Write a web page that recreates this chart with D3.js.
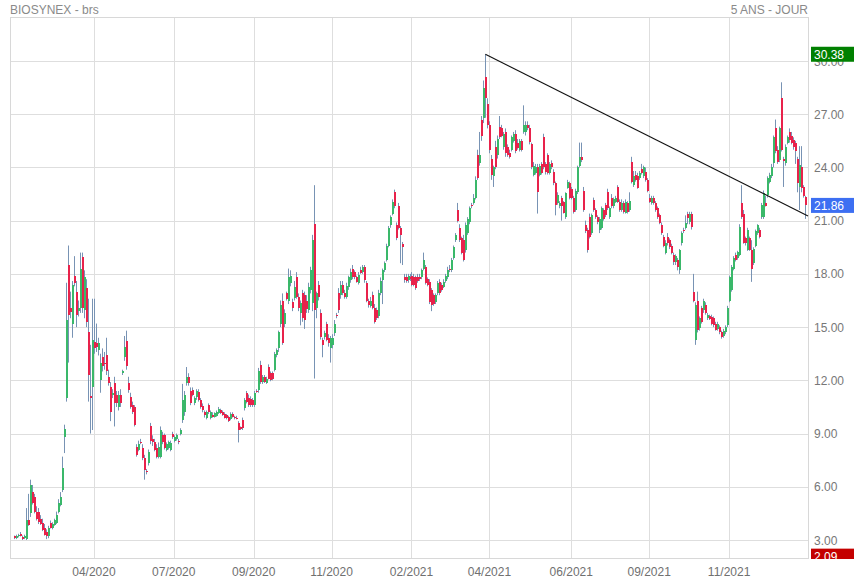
<!DOCTYPE html>
<html><head><meta charset="utf-8">
<script src="https://cdn.jsdelivr.net/npm/d3@7"></script>
<style>
html,body{margin:0;padding:0;background:#fff;}
svg{display:block;font-family:"Liberation Sans",Arial,sans-serif;}
</style></head>
<body><svg id="chart" width="854" height="580"></svg>
<script>
// ---- DATA: daily candles [open, high, low, close] ----
const seg2020a = [
[3.2,3.25,3.05,3.1],[3.1,3.3,3.05,3.25],[3.2,3.35,3.15,3.3],[3.35,3.45,3.2,3.22],[3.18,3.25,3.0,3.05],
[3.1,3.3,3.05,3.2],[3.05,4.8,3.0,4.1],[4.1,5.6,3.8,3.85],[4.5,6.4,4.3,6.1],[5.7,6.1,5.0,5.1],
[5.4,5.6,4.5,4.6],[4.6,4.9,4.1,4.2],[4.6,4.8,3.9,4.0],[4.2,4.4,3.85,3.9],[3.95,4.2,3.5,3.55],
[3.7,3.9,3.25,3.3],[3.45,3.6,3.05,3.2],[3.2,3.8,3.1,3.7],[3.95,4.1,3.65,3.7],[3.7,4.0,3.6,3.9],
[3.85,4.2,3.8,4.1],[3.95,4.6,3.9,4.4],[4.6,5.3,4.5,5.1],[5.0,5.7,4.9,5.4],[5.8,7.7,5.7,7.05]
];
const seg2020b = [
[8.8,9.5,7.9,9.25],[11.0,17.5,10.8,15.4],[18.5,19.6,13.0,15.7],[16.1,17.0,15.5,15.85],[15.2,17.6,14.4,17.4],
[17.9,19.0,17.3,17.5],[17.0,17.6,15.0,15.7],[15.9,16.5,15.6,16.1],[16.1,19.2,15.8,18.3],[18.95,19.2,15.8,16.1],
[15.97,18.2,15.5,17.8],[17.2,17.7,15.0,15.3],[14.7,16.6,10.8,12.3],[11.1,14.0,9.0,11.0],[11.6,16.6,9.2,14.3],
[14.15,16.6,13.5,13.8],[14.1,15.2,13.6,13.9],[13.7,14.4,13.4,14.1],[12.0,13.5,11.3,13.0],[13.3,13.8,12.5,12.8],
[13.0,13.6,12.6,12.9],[13.4,14.4,12.3,12.5],[12.2,12.6,11.7,11.85],[11.6,11.9,9.7,10.2],[11.2,11.5,11.0,11.3],
[11.85,12.2,9.4,10.7],[11.2,11.4,10.5,10.7],[10.5,11.4,10.3,11.2],[11.2,11.5,10.5,10.7],[12.4,12.6,12.3,12.5],
[13.3,14.5,13.1,13.9],[14.2,14.8,12.6,12.8],[11.85,12.2,11.3,11.45],[11.05,11.3,10.4,10.5],[10.6,10.8,10.1,10.2],
[10.5,10.6,9.4,9.5]
];
const seg2020c = [
[8.25,8.4,7.7,7.8],[8.1,8.6,8.0,8.4],[8.55,8.7,8.4,8.5],[8.2,8.4,7.5,7.6],[7.6,7.8,6.4,6.95],
[6.9,7.0,6.7,6.85],[7.35,8.1,7.2,7.95],[9.4,9.6,8.4,8.6],[8.7,8.9,8.3,8.5],[8.5,8.7,8.0,8.1],
[8.2,8.4,7.6,7.7],[7.7,8.5,7.6,8.25],[7.7,9.4,7.6,9.2],[8.9,9.1,8.4,8.5],[8.9,9.0,8.1,8.2],
[8.1,8.5,8.0,8.4],[8.2,8.6,8.1,8.5],[8.1,8.6,8.0,8.45],[9.0,9.1,8.7,8.8],[8.6,8.9,8.5,8.8],
[8.7,9.0,8.6,8.9],[8.6,8.7,8.4,8.5],[9.0,9.3,8.9,9.2],[9.75,11.8,9.6,10.9],[10.2,11.4,10.0,11.2],
[11.85,12.75,11.7,12.2],[12.2,12.4,11.7,11.85],[11.4,11.6,10.6,10.7],[11.45,11.6,11.1,11.2],[10.7,11.1,10.6,11.0],
[11.05,11.5,10.9,11.4],[11.35,11.5,10.8,10.9],[10.9,11.0,10.4,10.5],[10.55,10.7,10.2,10.3],[10.2,10.3,9.9,10.05],
[9.85,10.3,9.8,10.2],[10.6,10.7,10.1,10.2],[9.85,10.3,9.8,10.2],[10.05,10.2,9.9,9.95],[9.95,10.2,9.9,10.15],
[10.0,10.3,9.95,10.2],[10.15,10.5,10.1,10.4],[10.3,10.4,10.1,10.15],[10.2,10.3,10.0,10.05],[10.1,10.2,9.85,9.9],
[10.05,10.1,9.8,9.85],[9.95,10.0,9.65,9.7],[9.8,10.2,9.75,10.1],[10.1,10.2,9.9,9.95],[9.95,10.0,9.8,9.85],
[9.9,10.0,9.8,9.85],[9.6,9.7,8.5,9.2],[9.35,9.4,9.2,9.3]
];
const seg2020d = [
[9.75,9.9,9.2,9.3],[10.45,11.0,10.3,10.9],[11.3,11.4,10.7,10.8],[11.0,11.2,10.5,10.6],[10.95,11.1,10.5,10.6],
[10.9,11.0,10.5,10.6],[10.6,11.4,10.5,11.3],[11.4,11.5,11.3,11.35],[11.45,12.7,11.3,12.5],[12.85,13.1,11.8,11.9],
[11.9,12.3,11.8,12.2],[12.2,12.3,11.85,11.9],[11.85,12.2,11.8,12.1],[12.75,12.9,12.05,12.1],[12.4,12.5,11.95,12.0],
[12.4,12.5,12.0,12.05],[12.6,13.6,12.5,13.5],[13.4,13.8,13.3,13.7],[13.8,14.8,13.6,14.7],[15.2,16.5,15.0,16.25],
[16.5,16.9,14.0,14.1],[15.2,16.0,15.0,15.8],[16.9,17.0,16.5,16.6],[16.5,18.3,16.3,17.8],[17.5,18.2,17.3,17.9],
[16.4,16.6,15.9,16.1],[16.65,17.6,16.5,17.25],[17.8,18.1,16.6,16.7],[16.7,16.9,15.9,16.1],[15.8,16.5,15.1,16.35],
[16.9,17.1,15.3,15.5],[16.8,17.0,14.9,15.4],[16.5,16.8,15.8,16.0],[15.95,17.5,15.8,17.25],[17.1,18.4,16.9,18.2],
[16.35,20.2,15.9,19.9],[20.8,23.0,12.1,15.96],[16.1,17.0,15.5,16.9],[17.4,17.6,16.5,16.7],[15.8,16.0,14.3,14.45],
[14.3,14.4,13.3,14.0],[14.45,14.8,14.3,14.65],[15.2,15.3,14.2,14.3],[14.4,14.6,13.9,14.1],[13.8,14.5,13.0,14.4],
[14.0,14.6,13.8,14.4],[14.65,15.4,14.5,15.2]
];
const seg2021a = [
[15.7,15.8,15.5,15.6],[16.95,17.2,15.8,15.96],[16.8,17.6,16.6,17.4],[17.4,17.6,16.8,16.9],[16.95,17.1,16.6,16.7],
[16.7,17.5,16.6,17.3],[17.25,17.9,17.1,17.8],[17.65,18.3,17.5,18.1],[18.3,18.5,17.7,17.8],[18.1,18.2,17.7,17.8],
[17.8,17.9,17.5,17.55],[17.5,18.1,17.4,17.95],[18.2,18.4,18.0,18.05],[18.1,18.5,18.0,18.4],[18.4,18.5,17.5,17.65],
[17.5,17.6,16.4,16.5],[16.5,16.6,16.1,16.25],[16.2,16.7,16.1,16.5],[16.8,17.0,16.0,16.1],[16.1,16.3,15.2,15.3],
[15.96,16.1,15.4,15.5],[15.6,17.1,15.5,16.95],[16.9,17.8,16.8,17.6],[17.65,18.3,16.3,18.2],[18.2,18.7,18.1,18.6],
[18.8,19.7,18.7,19.6],[19.6,20.7,19.5,20.6],[20.75,21.3,20.6,21.2],[21.4,22.2,21.3,22.05],[22.6,22.75,21.7,21.8],
[20.75,20.9,19.9,20.0],[21.8,22.0,20.5,20.6],[20.6,20.7,18.6,20.2],[19.7,19.8,18.5,19.5],[17.8,18.0,17.5,17.65],
[17.85,18.0,17.5,17.6],[17.65,18.0,17.5,17.9],[17.85,18.0,17.6,17.7],[17.9,18.1,17.3,17.4],[17.85,18.0,17.3,17.4],
[17.8,17.9,17.1,17.2],[17.85,18.0,17.5,17.6],[17.85,18.0,17.6,17.7],[17.8,18.3,17.7,18.2],[18.3,19.2,18.2,18.8],
[18.4,18.5,17.4,17.5],[17.7,17.8,17.3,17.4],[17.55,17.7,16.3,16.4],[17.1,17.2,15.9,16.25],[16.8,16.9,16.2,16.3],
[16.4,16.9,16.3,16.8],[16.9,17.6,16.8,17.5],[17.55,17.7,16.8,16.9],[17.4,17.5,17.0,17.1],[17.25,17.7,17.2,17.55],
[17.6,18.0,17.5,17.9],[17.8,18.4,17.7,18.2],[18.3,18.5,18.1,18.2],[18.2,18.9,18.1,18.8],[18.9,19.6,18.8,19.5],
[19.9,20.3,19.8,20.2]
];
const seg2021b = [
[21.6,22.0,20.9,21.0],[20.6,20.8,19.8,19.9],[20.0,20.1,19.1,19.2],[19.9,20.2,18.7,18.8],[19.35,20.9,19.2,20.75],
[20.3,21.2,20.2,21.1],[20.9,21.8,20.8,21.7],[21.9,22.0,21.7,21.8],[22.0,22.5,21.9,22.3],[22.3,23.5,22.2,23.3],
[24.7,25.0,23.3,23.4],[24.25,26.0,24.1,24.7],[26.7,26.9,25.5,25.8],[26.8,28.9,26.5,28.5],[29.1,30.38,26.8,27.9],
[27.6,27.9,26.2,26.4],[26.4,26.6,24.8,25.0],[24.5,24.7,23.3,23.6],[23.5,24.1,22.9,24.0],[25.15,25.5,23.9,24.0],
[24.7,25.8,24.5,25.6],[26.3,26.9,25.6,25.7],[26.2,26.4,25.7,25.8],[25.15,26.0,25.0,25.9],[26.0,26.2,24.6,24.8],
[25.15,25.3,24.6,24.7],[24.8,25.0,24.5,24.6],[25.0,25.8,24.9,25.7],[25.5,26.0,25.4,25.9],[25.9,26.1,24.8,24.9],
[25.4,25.6,25.0,25.1],[25.0,25.6,24.9,25.5],[25.5,25.6,24.9,25.0],[26.0,27.5,25.9,26.4],[26.0,26.6,25.8,26.4],
[26.4,26.6,26.1,26.2],[26.2,26.4,25.3,25.45],[25.3,25.4,23.9,24.0],[23.6,24.3,23.5,24.1],[23.7,24.2,23.6,24.0],
[24.0,24.2,21.4,22.6],[23.6,24.2,23.5,24.1],[24.2,24.3,23.6,23.7],[25.7,25.9,23.9,24.0],[24.2,24.3,23.6,23.75],
[24.7,24.8,23.6,23.7],[23.7,24.3,23.6,24.2],[24.25,24.4,23.9,24.0],[23.75,23.9,23.0,23.1],[23.1,23.2,21.3,21.9],
[22.0,22.6,21.9,22.45],[21.8,22.1,21.7,22.0]
];
const seg2021c = [
[22.3,22.4,21.0,21.8],[22.05,22.1,21.4,21.45],[21.2,22.6,21.1,22.55],[22.85,23.3,22.8,23.2],[23.1,23.2,22.2,22.3],
[22.8,22.9,22.2,22.3],[22.3,22.4,21.4,21.5],[21.6,22.8,21.5,22.7],[22.6,24.1,22.5,24.0],[24.1,25.4,24.0,24.6],
[24.6,25.4,24.3,24.4],[22.7,22.9,21.5,21.6],[20.75,21.0,20.3,20.4],[20.5,20.6,19.2,19.35],[21.2,21.4,20.0,20.1],
[20.3,21.4,20.2,21.3],[22.15,22.3,21.5,21.6],[21.6,21.7,21.1,21.2],[21.2,21.3,20.8,20.9],[20.45,21.2,20.3,21.1],
[20.6,21.8,20.5,21.7],[21.6,21.7,21.0,21.1],[21.9,22.0,21.2,21.3],[22.6,22.8,21.6,21.7],[21.2,21.8,21.1,21.7],
[22.3,22.5,21.7,21.8],[21.8,22.3,21.7,22.2],[22.05,22.4,22.0,22.3],[22.9,23.0,22.0,22.05],[22.05,22.2,21.5,21.6],
[21.6,22.2,21.5,22.0],[22.0,22.1,21.4,21.5],[21.45,22.2,21.4,22.05],[22.0,22.1,21.4,21.5],[21.6,22.6,21.5,22.1],
[24.3,24.6,23.1,23.2],[23.0,23.8,22.9,23.5],[23.6,23.8,23.2,23.3],[23.5,23.7,22.8,22.85],[23.4,23.8,23.3,23.7],
[23.9,24.2,23.6,23.7],[23.5,24.1,23.4,24.0],[23.75,24.0,23.2,23.3],[23.3,23.4,22.6,22.7],[22.3,22.5,22.0,22.05],
[22.0,22.4,21.9,22.3],[22.3,22.4,21.9,22.0],[22.0,22.1,21.5,21.6],[21.7,21.8,21.1,21.2],[21.3,21.4,20.8,20.85],
[20.75,20.9,20.2,20.3],[20.1,20.2,19.5,19.6],[19.2,19.9,19.1,19.75],[20.1,20.3,19.6,19.75],[19.9,20.0,19.4,19.5],
[19.6,19.7,19.1,19.2],[19.05,19.2,18.5,18.65],[18.65,19.1,18.5,19.0],[18.8,18.9,18.2,18.4],[18.2,19.4,18.0,19.35],
[19.75,20.4,19.6,20.3],[20.5,20.6,20.3,20.4],[20.6,21.3,20.5,20.85],[21.4,21.5,20.8,21.15],[20.9,21.5,20.8,21.4],
[21.4,21.5,20.5,20.65]
];
const seg2021d = [
[17.0,18.0,16.4,16.5],[14.3,16.4,14.0,16.25],[16.5,17.0,14.7,14.85],[14.95,15.6,14.8,15.5],[16.1,16.2,15.2,15.3],
[15.96,16.6,15.8,16.5],[16.25,16.4,15.7,15.8],[15.5,15.8,15.4,15.7],[15.6,15.7,15.4,15.45],[15.55,15.7,15.1,15.2],
[15.5,15.6,15.0,15.1],[15.2,15.3,14.8,14.85],[14.9,15.3,14.8,15.2],[15.0,15.1,14.6,14.7],[14.7,14.8,14.35,14.45],
[14.5,14.9,14.4,14.8],[14.7,15.1,14.6,15.0],[15.1,16.2,15.0,16.1],[16.5,17.9,16.4,17.8],[17.1,18.5,17.0,18.4],
[18.3,19.0,18.2,18.9],[19.05,19.2,18.7,18.8],[18.9,19.3,18.8,19.25],[19.05,20.8,19.0,20.65],[22.0,23.0,21.1,21.2],
[21.4,21.6,19.7,19.75],[20.0,20.1,19.6,19.75],[19.35,20.6,19.3,20.5],[20.0,20.1,19.3,19.35],[19.35,19.9,17.55,18.3],
[18.6,19.5,18.5,19.4],[19.6,20.5,19.5,20.4],[20.3,20.8,20.2,20.75],[20.5,20.6,20.0,20.1],[21.2,22.0,21.1,21.9],
[21.2,22.7,21.1,22.55],[22.0,22.4,21.8,21.85],[22.45,23.5,22.3,23.4],[23.2,23.7,23.1,23.6],[23.5,24.2,23.4,24.0],
[24.25,25.8,24.0,25.7],[26.2,26.7,24.8,24.9],[25.0,25.2,24.2,24.3],[24.4,26.3,24.3,26.2],[27.9,28.8,24.9,25.0],
[24.5,24.6,22.9,24.35],[24.25,25.3,24.1,25.15],[25.4,25.8,25.3,25.7],[26.0,26.2,25.4,25.55],[25.8,26.0,25.3,25.4],
[25.55,25.7,25.0,25.15],[25.4,25.5,24.2,24.95],[24.5,24.6,22.6,23.1],[22.9,25.2,21.6,24.15],[24.0,25.2,22.6,22.85],
[22.9,23.0,22.3,22.4],[22.35,22.4,21.1,21.86]
];

const tickIndex  = [40, 80, 120, 159, 199, 238, 279, 318, 358];
const tickLabels = ["04/2020","07/2020","09/2020","11/2020","02/2021","04/2021","06/2021","09/2021","11/2021"];
const yTicks = [3, 6, 9, 12, 15, 18, 21, 24, 27, 30];
const markerValues = [30.38, 21.86, 2.09];
const markerColors = ["#008000", "#3d6ff2", "#c40000"];
const trendStart = [236, 30.38];
const trendEnd   = [397.5, 21.26];
const titleLeft = "BIOSYNEX - brs";
const titleRight = "5 ANS - JOUR";

// ---- DRAW ----
const candles = [].concat(seg2020a, seg2020b, seg2020c, seg2020d, seg2021a, seg2021b, seg2021c, seg2021d)
  .map((d, i) => ({i, o: d[0], h: d[1], l: d[2], c: d[3]}));
const N = candles.length;

const svg = d3.select("#chart");
const L = 10, R = 809, T = 17, B = 559;

const x = d3.scaleLinear().domain([0, N - 1]).range([14, 805]);
const y = d3.scaleLinear().domain([3, 30]).range([540, 61]);

const grid = svg.append("g").attr("shape-rendering", "crispEdges");
grid.selectAll("line.h").data(yTicks).join("line")
  .attr("x1", L).attr("x2", R)
  .attr("y1", d => Math.round(y(d)) + 0.5).attr("y2", d => Math.round(y(d)) + 0.5)
  .attr("stroke", "#dedede");
grid.selectAll("line.v").data(tickIndex).join("line")
  .attr("y1", T).attr("y2", B)
  .attr("x1", d => Math.round(x(d)) + 0.5).attr("x2", d => Math.round(x(d)) + 0.5)
  .attr("stroke", "#dedede");
grid.append("rect").attr("x", L + 0.5).attr("y", T + 0.5)
  .attr("width", R - L - 1).attr("height", B - T - 1)
  .attr("fill", "none").attr("stroke", "#d8d8d8");

svg.append("defs").append("clipPath").attr("id", "plotclip")
  .append("rect").attr("x", 0).attr("y", T).attr("width", 854).attr("height", B - T);

const cg = svg.append("g").attr("clip-path", "url(#plotclip)");
const px = d => Math.round(x(d.i));
cg.selectAll("line.wick").data(candles).join("line")
  .attr("x1", d => px(d) + 0.5).attr("x2", d => px(d) + 0.5)
  .attr("y1", d => y(d.h)).attr("y2", d => y(d.l))
  .attr("stroke", "#7893b4").attr("stroke-width", 1);
cg.selectAll("rect.body").data(candles).join("rect")
  .attr("shape-rendering", "crispEdges")
  .attr("x", d => px(d))
  .attr("width", 2)
  .attr("y", d => y(Math.max(d.o, d.c)))
  .attr("height", d => Math.max(1.5, Math.abs(y(d.o) - y(d.c))))
  .attr("fill", d => d.c >= d.o ? "#3ab86a" : "#e8224b");

// trend line
cg.append("line")
  .attr("x1", x(trendStart[0])).attr("y1", y(trendStart[1]))
  .attr("x2", x(trendEnd[0])).attr("y2", y(trendEnd[1]))
  .attr("stroke", "#111").attr("stroke-width", 1.1);

// axis labels
const txt = svg.append("g").attr("font-size", 12);
txt.selectAll("text.yl").data(yTicks).join("text")
  .attr("x", 814).attr("y", d => y(d) + 4.5)
  .attr("fill", "#777").text(d => d.toFixed(2));
txt.selectAll("text.xl").data(tickIndex).join("text")
  .attr("x", (d) => x(d)).attr("y", 576)
  .attr("text-anchor", "middle").attr("fill", "#707070")
  .text((d, k) => tickLabels[k]);
txt.append("text").attr("x", 10).attr("y", 14).attr("fill", "#8a8a8a").text(titleLeft);
txt.append("text").attr("x", 808).attr("y", 14).attr("text-anchor", "end").attr("fill", "#8a8a8a").text(titleRight);

// value markers (drawn over the axis labels, as in the original)
const mg = svg.append("g").attr("clip-path", "url(#plotclip)");
markerValues.forEach((v, k) => {
  const yy = y(v);
  mg.append("rect").attr("x", 811).attr("y", yy - 7.5).attr("width", 43).attr("height", 15)
    .attr("fill", markerColors[k]);
  mg.append("text").attr("x", 814).attr("y", yy + 4.5).attr("font-size", 12)
    .attr("fill", "#fff").text(v.toFixed(2));
});
</script>
</body></html>
